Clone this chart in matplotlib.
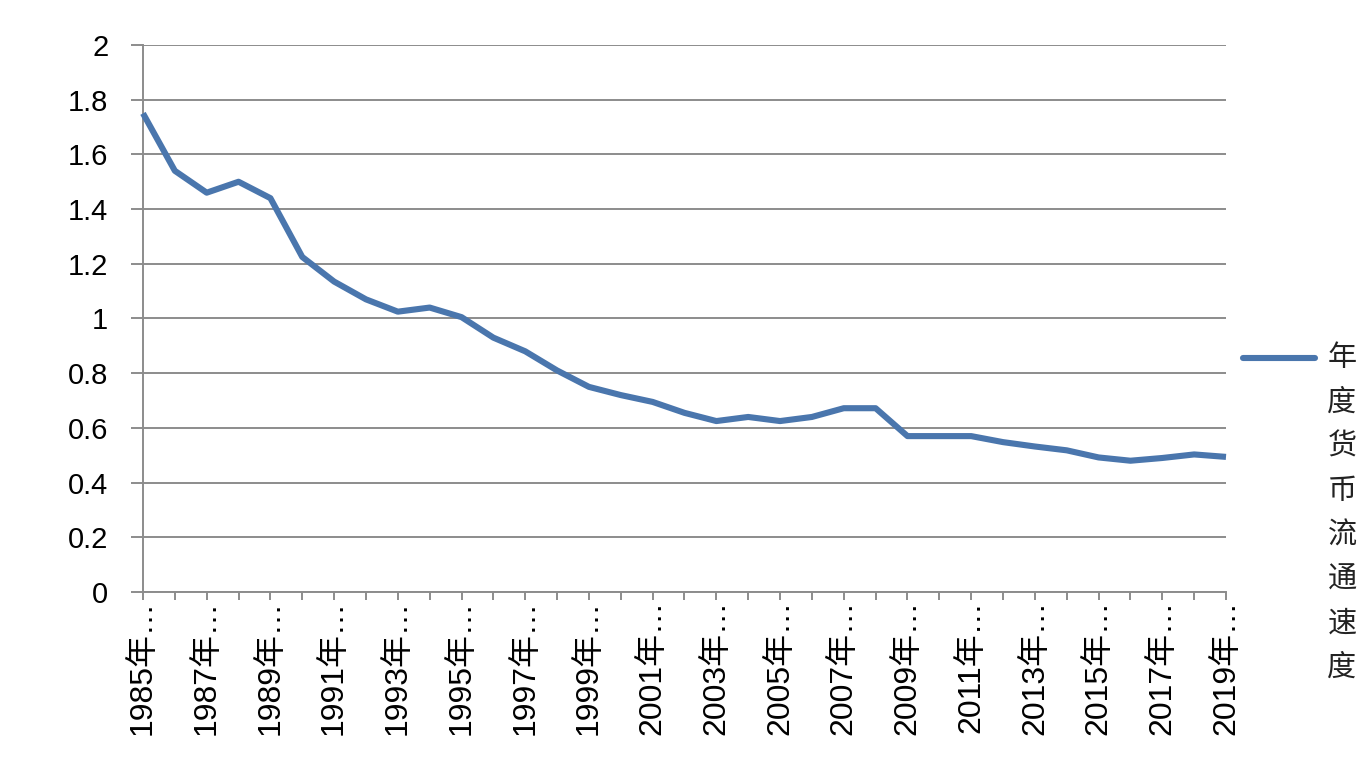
import numpy as np
import matplotlib
matplotlib.use('Agg')
import matplotlib.pyplot as plt
from matplotlib.lines import Line2D

plt.rcParams['font.family'] = ['Liberation Sans', 'Noto Sans CJK SC', 'DejaVu Sans']

years = list(range(1985, 2020))
velocity = [1.75, 1.54, 1.46, 1.50, 1.44, 1.225, 1.135, 1.07, 1.025, 1.04,
            1.005, 0.93, 0.88, 0.81, 0.75, 0.72, 0.695, 0.655, 0.625, 0.64,
            0.625, 0.64, 0.672, 0.672, 0.57, 0.57, 0.57, 0.548, 0.532, 0.518,
            0.492, 0.48, 0.49, 0.503, 0.494]
label_years = years[::2]
yticks = [0, 0.2, 0.4, 0.6, 0.8, 1.0, 1.2, 1.4, 1.6, 1.8, 2.0]
ytick_labels = ['0', '0.2', '0.4', '0.6', '0.8', '1', '1.2', '1.4', '1.6', '1.8', '2']
series_name = '年度货币流通速度'

line_color = '#4a76ad'
grid_color = '#8c8c8c'

fig = plt.figure(figsize=(13.72, 7.76), dpi=100)
ax = fig.add_axes([143/1372, 1 - 592/776, (1226 - 143)/1372, (592 - 45)/776])

ax.plot(years, velocity, color=line_color, lw=4.4, solid_joinstyle='round',
        solid_capstyle='butt', zorder=3, clip_on=False)

ax.set_xlim(1985, 2019)
ax.set_ylim(0, 2)

ax.set_yticks(yticks)
ax.set_yticklabels(ytick_labels, fontsize=21)
ax.set_xticks(label_years)
ax.set_xticklabels([f'{y}年…' for y in label_years], rotation=90, fontsize=23,
                   va='top', ha='center')
ax.set_xticks(years, minor=True)

ax.grid(axis='y', color=grid_color, lw=1.4)
ax.set_axisbelow(True)
for s in ['top', 'right']:
    ax.spines[s].set_visible(False)
for s in ['left', 'bottom']:
    ax.spines[s].set_color(grid_color)
    ax.spines[s].set_linewidth(1.4)

ax.tick_params(axis='y', length=9, width=1.4, color=grid_color, pad=16)
ax.tick_params(axis='x', which='both', length=6, width=1.4, color=grid_color,
               pad=0)

# legend drawn by hand: short line with the series name stacked vertically
fig.add_artist(Line2D([1243/1372, 1315/1372], [1 - 358/776, 1 - 358/776],
                      color=line_color, lw=4.4, solid_capstyle='round'))
for i, ch in enumerate(series_name):
    fig.text(1342/1372, 1 - (358 + 44.3*i)/776, ch, fontsize=21,
             color='#222222', ha='center', va='center',
             family=['Noto Sans CJK SC'])

fig.savefig('out.png', dpi=100)
